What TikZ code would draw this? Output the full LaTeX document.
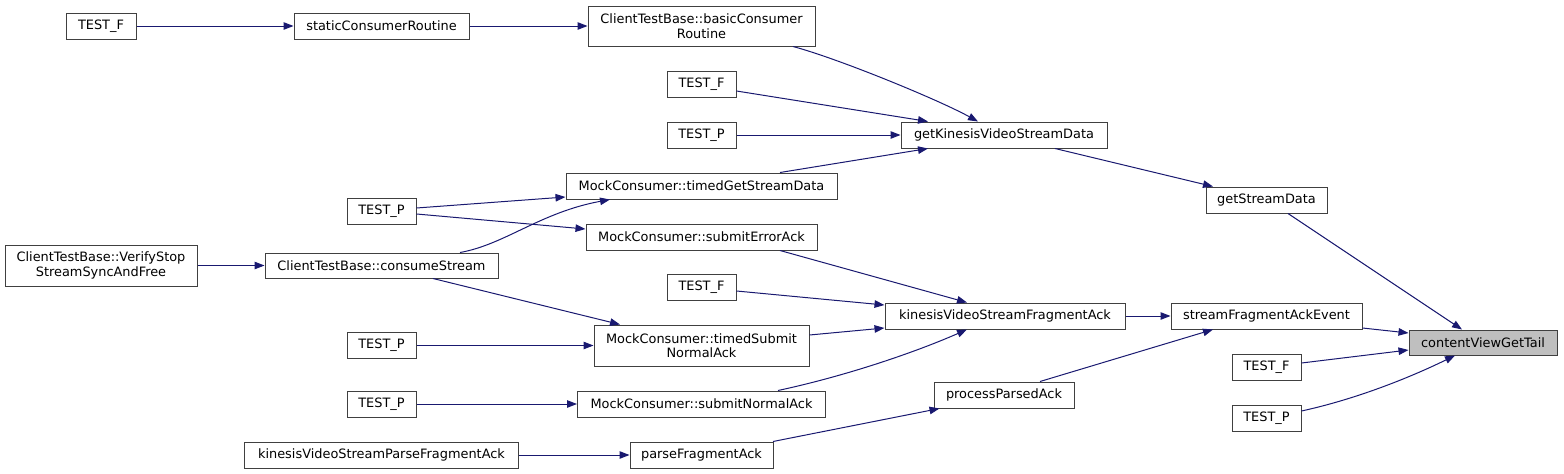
\documentclass[tikz,border=0pt]{standalone}
\usepackage{fontspec}
\setmainfont{DejaVu Sans}
\usetikzlibrary{arrows.meta,calc}
\definecolor{edgecol}{HTML}{191970}
\definecolor{boxcol}{HTML}{404040}
\definecolor{hlfill}{HTML}{BFBFBF}
\begin{document}
\begin{tikzpicture}[x=1pt,y=-1pt,
  box/.style={draw=boxcol,line width=1pt,inner sep=0pt,align=center,
    font=\fontsize{12.9}{14.5}\selectfont},
  hl/.style={box,fill=hlfill},
  edge/.style={draw=edgecol,line width=1pt,-{Triangle[length=10pt,width=7.5pt]}}]
\useasboundingbox (0,0) rectangle (1564,474);
\node[box,minimum width=70pt,minimum height=26pt] (tf1) at (101,26) {TEST\_F};
\node[box,minimum width=175pt,minimum height=26pt] (scr) at (381.5,26) {staticConsumerRoutine};
\node[box,minimum width=227pt,minimum height=40pt] (bcr) at (701.5,26) {ClientTestBase::basicConsumer\\Routine};
\node[box,minimum width=69pt,minimum height=26pt] (tf2) at (701.5,84) {TEST\_F};
\node[box,minimum width=69pt,minimum height=26pt] (tp2) at (701.5,135) {TEST\_P};
\node[box,minimum width=206pt,minimum height=26pt] (gkv) at (1004,135) {getKinesisVideoStreamData};
\node[box,minimum width=271pt,minimum height=26pt] (tgs) at (701.5,186) {MockConsumer::timedGetStreamData};
\node[box,minimum width=69pt,minimum height=26pt] (tp1) at (381.5,211) {TEST\_P};
\node[box,minimum width=231pt,minimum height=26pt] (sea) at (701.5,237) {MockConsumer::submitErrorAck};
\node[box,minimum width=121pt,minimum height=26pt] (gsd) at (1266.5,200) {getStreamData};
\node[box,minimum width=192pt,minimum height=41pt] (vss) at (101,265.5) {ClientTestBase::VerifyStop\\StreamSyncAndFree};
\node[box,minimum width=233pt,minimum height=25pt] (cs) at (381.5,265.5) {ClientTestBase::consumeStream};
\node[box,minimum width=69pt,minimum height=26pt] (tf3) at (701.5,287) {TEST\_F};
\node[box,minimum width=240pt,minimum height=26pt] (kfa) at (1005,316) {kinesisVideoStreamFragmentAck};
\node[box,minimum width=191pt,minimum height=26pt] (sfae) at (1266.5,316) {streamFragmentAckEvent};
\node[hl,minimum width=148pt,minimum height=25pt] (cvgt) at (1483,342.5) {contentViewGetTail};
\node[box,minimum width=215pt,minimum height=41pt] (tsn) at (701.5,345.5) {MockConsumer::timedSubmit\\NormalAck};
\node[box,minimum width=69pt,minimum height=26pt] (tp3) at (381.5,345.5) {TEST\_P};
\node[box,minimum width=69pt,minimum height=26pt] (tfr) at (1266.5,367) {TEST\_F};
\node[box,minimum width=140pt,minimum height=26pt] (ppa) at (1004,395) {processParsedAck};
\node[box,minimum width=248pt,minimum height=26pt] (sna) at (701.5,404) {MockConsumer::submitNormalAck};
\node[box,minimum width=69pt,minimum height=26pt] (tp4) at (381.5,404) {TEST\_P};
\node[box,minimum width=69pt,minimum height=26pt] (tpr) at (1266.5,418) {TEST\_P};
\node[box,minimum width=274pt,minimum height=26pt] (kpf) at (381.5,455) {kinesisVideoStreamParseFragmentAck};
\node[box,minimum width=143pt,minimum height=26pt] (pfa) at (701.5,455) {parseFragmentAck};

\draw[edge] (tf1.east) -- (scr.west);
\draw[edge] (scr.east) -- (bcr.west);
\draw[edge] ($(bcr.south)+(91.5,0)$) .. controls +(45,12) and +(-40,-22) .. ($(gkv.north)+(-26,0)$);
\draw[edge] ($(tf2.east)+(0,7)$) -- ($(gkv.north)+(-76,0)$);
\draw[edge] (tp2.east) -- (gkv.west);
\draw[edge] ($(tgs.north)+(78.5,0)$) -- ($(gkv.south)+(-76,0)$);
\draw[edge] ($(tp1.east)+(0,-3)$) -- ($(tgs.west)+(0,11)$);
\draw[edge] ($(tp1.east)+(0,3)$) -- ($(sea.west)+(0,-8)$);
\draw[edge] ($(cs.north)+(78.5,0)$) .. controls +(45,-8) and +(-70,13) .. ($(tgs.south)+(-91.5,0)$);
\draw[edge] ($(cs.south)+(51.5,0)$) -- ($(tsn.north)+(-81.5,0)$);
\draw[edge] (vss.east) -- (cs.west);
\draw[edge] ($(sea.south)+(78.5,0)$) -- ($(kfa.north)+(-38,0)$);
\draw[edge] ($(tf3.east)+(0,4)$) -- ($(kfa.west)+(0,-11)$);
\draw[edge] ($(tsn.east)+(0,-10.5)$) -- ($(kfa.west)+(0,12)$);
\draw[edge] (tp3.east) -- (tsn.west);
\draw[edge] ($(sna.north)+(76.5,0)$) .. controls +(70,-15) and +(-50,22) .. ($(kfa.south)+(-38,0)$);
\draw[edge] (tp4.east) -- (sna.west);
\draw[edge] (kfa.east) -- (sfae.west);
\draw[edge] ($(ppa.north)+(36,0)$) -- ($(sfae.south)+(-53.5,0)$);
\draw[edge] ($(pfa.north)+(71.5,0)$) -- ($(ppa.south west)+(6,0)$);
\draw[edge] (kpf.east) -- (pfa.west);
\draw[edge] ($(gkv.south)+(51,0)$) -- ($(gsd.north)+(-53.5,0)$);
\draw[edge] ($(gsd.south)+(21.5,0)$) -- ($(cvgt.north)+(-21,0)$);
\draw[edge] ($(sfae.east)+(0,12)$) -- ($(cvgt.west)+(0,-9.5)$);
\draw[edge] ($(tfr.east)+(0,-4)$) -- ($(cvgt.west)+(0,7.5)$);
\draw[edge] ($(tpr.east)+(0,-7)$) .. controls +(55,-12) and +(-45,22) .. ($(cvgt.south)+(-28,0)$);
\end{tikzpicture}
\end{document}
